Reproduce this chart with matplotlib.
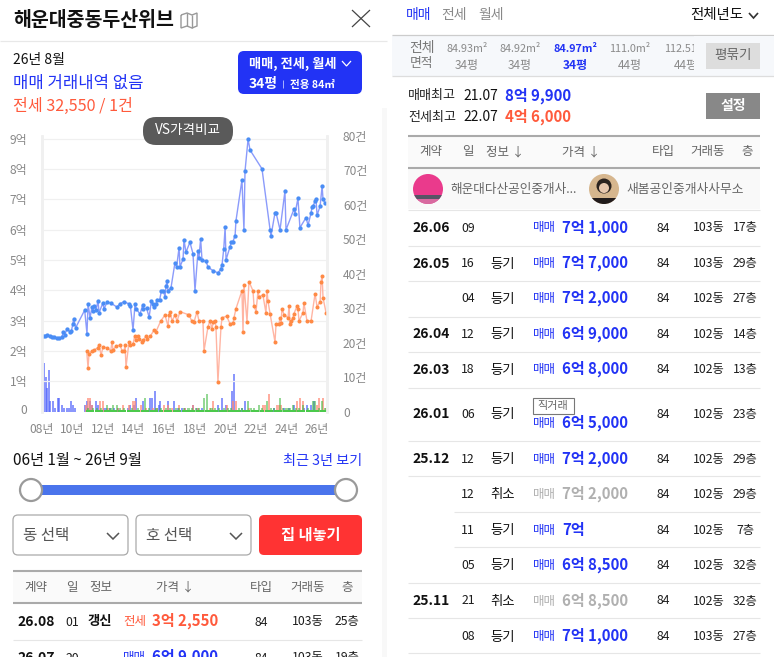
import matplotlib
matplotlib.use("Agg")
import matplotlib.pyplot as plt
from matplotlib.patches import Rectangle, FancyBboxPatch, Circle

plt.rcParams['font.family'] = ['Noto Sans CJK KR', 'DejaVu Sans']

# ---------- chart data ----------
sale_years = [8.07,8.22,8.37,8.54,8.68,8.81,8.98,9.15,9.31,9.42,9.50,9.66,9.85,9.94,10.03,10.09,10.22,10.81,10.96,11.03,
 11.16,11.29,11.33,11.42,11.55,11.68,11.75,11.99,12.07,12.29,12.53,12.92,13.12,13.38,13.73,13.80,13.97,14.10,14.17,14.43,
 14.60,14.64,14.86,15.02,15.17,15.25,15.34,15.47,15.54,15.71,15.82,15.95,16.06,16.13,16.19,16.26,16.45,16.71,16.82,16.98,
 17.04,17.24,17.30,17.43,17.69,17.89,18.02,18.22,18.28,18.39,18.48,18.74,18.87,19.20,19.52,19.70,19.79,19.90,19.99,20.05,
 20.31,20.40,20.48,20.64,20.70,21.09,21.22,21.29,21.49,21.62,22.40,22.93,22.99,23.25,23.32,23.58,23.90,23.97,24.49,24.56,
 24.75,24.88,25.28,25.41,25.61,25.67,25.74,25.87,25.93,26.00,26.20,26.33,26.39,26.52]
sale_prices = [2.51,2.51,2.53,2.49,2.45,2.45,2.44,2.44,2.45,2.63,2.53,2.74,2.62,2.66,2.88,3.07,2.77,3.35,2.57,3.56,
 3.10,3.46,3.32,3.49,3.35,3.66,3.26,3.58,3.40,3.62,3.58,3.45,3.56,3.63,3.55,3.48,2.69,3.55,3.40,3.22,
 3.52,3.40,3.41,3.12,3.65,3.54,3.45,3.55,3.70,3.69,3.97,3.99,3.79,4.15,4.32,3.99,4.08,4.91,4.78,5.41,
 4.78,5.03,5.67,5.26,5.59,5.21,3.99,5.31,5.08,5.70,5.00,4.97,4.77,4.65,4.58,4.70,4.85,5.37,6.09,5.01,
 5.44,5.59,5.59,5.80,6.30,7.64,6.00,7.93,8.99,8.63,8.01,6.00,5.80,6.56,6.56,6.00,7.27,6.00,6.68,6.53,
 7.04,6.07,6.40,6.15,6.56,6.75,6.78,6.95,7.01,6.48,6.78,7.44,7.01,6.88]

rent_years = [10.94,11.03,11.09,11.27,11.42,11.66,11.75,11.88,12.01,12.27,12.51,12.60,12.66,12.86,13.12,13.25,13.38,13.45,13.51,13.71,
 13.77,13.97,14.08,14.17,14.32,14.38,14.56,14.64,14.82,14.91,15.10,15.34,15.47,15.78,16.06,16.26,16.32,16.39,16.52,16.71,
 16.85,17.04,17.59,17.63,17.80,17.96,18.15,18.28,18.54,18.61,18.87,19.00,19.13,19.22,19.33,19.39,19.52,19.72,19.79,20.09,
 20.31,20.51,20.57,20.70,21.09,21.16,21.22,21.42,21.55,21.81,21.88,22.01,22.14,22.20,22.46,22.66,22.73,22.79,22.93,23.25,
 23.32,23.51,23.58,23.64,23.71,23.84,24.10,24.17,24.23,24.30,24.43,24.49,24.69,24.75,24.82,25.08,25.14,25.34,25.61,25.87,
 26.00,26.20,26.26,26.33,26.39,26.59]
rent_prices = [2.01,1.44,1.90,2.00,2.03,2.11,2.20,1.87,2.13,2.11,2.01,2.31,2.03,2.16,2.20,2.01,2.00,2.20,1.47,2.31,
 2.20,2.23,2.49,2.36,2.49,2.40,2.31,2.36,2.49,2.40,2.49,2.69,2.64,2.99,3.19,2.82,3.19,3.29,2.99,3.19,
 2.99,3.30,3.20,3.19,3.00,2.96,3.30,3.00,3.00,2.01,2.80,3.00,2.74,2.96,3.00,2.80,0.98,2.80,3.10,3.15,
 2.90,2.93,3.10,3.40,3.99,2.64,4.19,2.97,4.29,3.99,3.49,3.30,3.99,3.79,3.85,3.26,3.99,3.65,3.23,2.30,
 2.90,2.90,3.10,2.93,3.40,3.20,3.10,3.49,2.90,3.00,3.10,3.23,3.49,3.40,3.00,3.26,3.59,3.00,3.00,3.89,
 3.46,3.63,4.29,4.48,3.76,3.26]

sale_bar_years = [8.04,8.15,8.28,8.35,8.48,8.54,8.74,8.87,9.07,9.13,9.33,9.46,9.66,9.79,9.92,10.05,10.18,10.83,10.96,11.16,
 11.29,11.55,11.68,12.08,12.21,12.47,12.73,12.99,13.65,13.78,14.04,14.17,14.65,15.08,15.23,15.41,15.67,15.74,16.26,16.65,
 16.91,17.17,17.37,17.87,18.13,18.46,19.55,19.81,20.05,20.44,20.57,21.09,21.29,23.19,23.84,24.17,24.47,25.15,25.35,25.61,25.80]
sale_bar_counts = [13,14,10,7,12,3,3,1,4,4,2,1,1,1,3,2,1,2,3,3,
 2,3,2,1,1,1,1,1,1,2,2,4,3,4,4,6,2,3,3,3,
 1,1,1,2,1,1,2,4,2,6,11,1,3,1,1,1,2,1,2,2,3]

rent_bar_years = [10.90,11.03,11.16,11.29,11.81,12.01,12.34,12.99,13.32,13.71,13.97,14.10,14.49,14.82,15.28,15.54,16.00,16.26,16.50,16.98,
 17.37,17.89,18.24,19.00,19.20,20.12,20.51,20.70,21.55,22.47,22.60,22.86,23.38,23.51,23.64,24.69,24.89,25.08,26.00,26.13,26.39,26.59]
rent_bar_counts = [2,4,4,2,3,3,1,1,2,2,3,3,2,1,1,1,2,2,1,2,
 1,2,1,1,3,2,3,3,1,2,2,5,2,2,2,3,4,3,2,4,4,1]

monthly_bar_years = [11.03,11.36,11.60,11.90,12.27,12.50,12.67,12.93,13.10,13.40,13.90,14.30,14.75,15.00,15.50,15.80,16.10,16.40,16.80,17.00,
 17.30,17.60,17.80,18.10,18.30,18.61,18.81,19.10,19.33,19.60,19.90,20.20,20.40,20.90,21.10,21.49,21.70,21.90,22.21,22.40,
 22.73,23.00,23.20,23.58,23.80,24.00,24.20,24.43,24.60,24.80,25.08,25.40,25.74,25.87,26.10,26.33,26.50]
monthly_bar_counts = [1,1,1,1,2,1,2,2,1,1,1,1,4,1,1,1,1,1,1,1,
 1,1,1,1,1,4,5,1,1,1,1,1,1,1,1,3,1,1,2,1,
 3,1,1,4,1,1,1,2,1,1,2,1,3,3,1,3,1]
monthly_base_years = [11.0,11.3,11.6,11.9,12.2,12.5,12.8,13.1,13.4,13.7,14.0,14.3,14.6,14.9,15.2,15.5,15.8,16.1,16.4,16.7,
 17.0,17.3,17.6,17.9,18.2,18.5,18.8,19.1,19.4,19.7,20.0,20.3,20.6,20.9,21.2,21.5,21.8,22.1,22.4,22.7,
 23.0,23.3,23.6,23.9,24.2,24.5,24.8,25.1,25.4,25.7,26.0,26.3,26.55]

price_ticks = [0,1,2,3,4,5,6,7,8,9]
price_labels = ['0','1억','2억','3억','4억','5억','6억','7억','8억','9억']
count_ticks = [0,10,20,30,40,50,60,70,80]
count_labels = ['0','10건','20건','30건','40건','50건','60건','70건','80건']
year_ticks = [8,10,12,14,16,18,20,22,24,26]
year_labels = ['08년','10년','12년','14년','16년','18년','20년','22년','24년','26년']

# ---------- table data ----------
right_dates = ['26.06','26.05','','26.04','26.03','26.01','25.12','','','','25.11','']
right_days = ['09','16','04','12','18','06','12','12','11','05','21','08']
right_info = ['','등기','등기','등기','등기','등기','등기','취소','등기','등기','취소','등기']
right_prices = ['7억 1,000','7억 7,000','7억 2,000','6억 9,000','6억 8,000','6억 5,000','7억 2,000','7억 2,000','7억','6억 8,500','6억 8,500','7억 1,000']
right_types = ['84']*12
right_dongs = ['103동','103동','102동','102동','102동','102동','102동','102동','102동','102동','102동','103동']
right_floors = ['17층','29층','27층','14층','13층','23층','29층','29층','7층','32층','32층','27층']
areas = ['84.93m²','84.92m²','84.97m²','111.0m²']
area_pyeong = ['34평','34평','34평','44평']

# ---------- styles ----------
BLUE = '#2233f5'
RED = '#ff5a3c'
TXT = '#1c1c1c'
LINE = '#e6e6e6'
DARKL = '#aaaaaa'

fig = plt.figure(figsize=(7.74, 6.57), dpi=100, facecolor='white')
W, H = 774, 657

def ax_rect(x0, y0, x1, y1):
    return [x0/W, 1-y1/H, (x1-x0)/W, (y1-y0)/H]

# ---------- chart ----------
ax = fig.add_axes(ax_rect(41.7, 135.5, 327, 411.7))
ax2 = ax.twinx()
ax.set_zorder(3); ax2.set_zorder(2)
ax.patch.set_visible(False)
ax.set_xlim(8.0, 26.65)
ax.set_ylim(0, 9.11)
ax2.set_ylim(0, 80)

ax2.bar(sale_bar_years, sale_bar_counts, width=0.14, color='#4d60fb', alpha=0.65, lw=0)
ax2.bar(rent_bar_years, rent_bar_counts, width=0.14, color='#ff8a76', alpha=0.7, lw=0)
ax2.bar(monthly_bar_years, monthly_bar_counts, width=0.14, color='#3fb83f', alpha=0.55, lw=0)
ax2.bar(monthly_base_years, [0.45]*len(monthly_base_years), width=0.27, color='#4cc94c', lw=0)

ax.plot(sale_years, sale_prices, color='#8b9bfb', lw=1.0, marker='o', ms=3.1,
        mfc='#4a8df5', mec='#4a8df5', mew=0)
ax.plot(rent_years, rent_prices, color='#ffb5a3', lw=1.0, marker='o', ms=2.9,
        mfc='#ff8a45', mec='#ff8a45', mew=0)

ax.set_yticks(price_ticks[1:])
ax.set_yticklabels(price_labels[1:])
ax.yaxis.set_tick_params(length=0, pad=10.5, labelsize=8.6, labelcolor='#888888')
ax.set_xticks(year_ticks)
ax.set_xticklabels(year_labels)
ax.xaxis.set_tick_params(length=0, pad=8, labelsize=8.6, labelcolor='#888888')
ax2.set_yticks(count_ticks)
ax2.set_yticklabels(count_labels)
ax2.yaxis.set_tick_params(length=0, pad=11.5, labelsize=8.6, labelcolor='#888888')
ax.grid(axis='y', color='#f0f0f0', lw=0.9)
ax.set_axisbelow(True)
for a in (ax, ax2):
    for s in ('top', 'bottom'):
        a.spines[s].set_visible(False)
    for s in ('left', 'right'):
        a.spines[s].set_color('#f0f0f0')
        a.spines[s].set_linewidth(1.8)
fig.text(27/W, 1-410/H, price_labels[0], ha='right', va='center', fontsize=8.6, color='#888888')

# ---------- overlay ----------
ov = fig.add_axes([0, 0, 1, 1], zorder=10)
ov.set_xlim(0, W); ov.set_ylim(H, 0)
ov.axis('off')

def T(x, y, s, size=9, color=TXT, weight='normal', ha='left', **kw):
    return ov.text(x, y, s, fontsize=size, color=color, fontweight=weight, ha=ha, va='center', **kw)

def R(x0, y0, x1, y1, fc, z=1, ec='none', lw=0):
    p = Rectangle((x0, y0), x1-x0, y1-y0, fc=fc, ec=ec, lw=lw, zorder=z)
    ov.add_patch(p); return p

def RR(x0, y0, x1, y1, fc, r=5, ec='none', lw=0, z=1):
    p = FancyBboxPatch((x0+r, y0+r), x1-x0-2*r, y1-y0-2*r, boxstyle=f'round,pad={r},rounding_size={r}',
                       fc=fc, ec=ec, lw=lw, zorder=z)
    ov.add_patch(p); return p

def L(xs, ys, c=LINE, lw=0.8, z=2):
    ov.plot(xs, ys, color=c, lw=lw, zorder=z, solid_capstyle='butt', solid_joinstyle='miter')

def chev(x, y, w, h, c, lw=1.1):
    L([x, x+w/2, x+w], [y, y+h, y], c=c, lw=lw, z=6)

# panel edge
R(382, 108, 387, 657, '#f8f8f8', z=0)

# header
T(13, 20, '해운대중동두산위브', size=14, color='#111111', weight='bold')
L([181, 187, 192, 197, 197, 192, 187, 181, 181], [15, 13, 15, 13, 26, 28, 26, 28, 15], c='#999999', lw=1.0)
L([187, 187], [13, 26], c='#999999', lw=1.0)
L([192, 192], [15, 28], c='#999999', lw=1.0)
L([352, 370], [10, 27], c='#444444', lw=0.9)
L([370, 352], [10, 27], c='#444444', lw=0.9)
L([0, 387], [40.5, 40.5], c='#e8e8e8', lw=0.9)

T(13, 60, '26년 8월', size=10, color='#111111')
T(13, 83, '매매 거래내역 없음', size=12, color=BLUE)
T(13, 106, '전세 32,550 / 1건', size=11.6, color=RED, weight='medium')

RR(238, 51, 362, 94, BLUE, r=6)
T(249, 63.5, '매매, 전세, 월세', size=9.5, color='white', weight='bold', zorder=6)
chev(342, 61, 9, 5, 'white', lw=0.9)
T(249, 84, '34평', size=10, color='white', weight='bold', zorder=6)
L([283, 283], [80, 88], c='#aab3ff', lw=0.7, z=6)
T(290, 85, '전용 84㎡', size=7.6, color='white', weight='bold', zorder=6)

RR(143, 117, 233, 145, '#5a5a5a', r=13, z=5)
T(188, 130, 'VS가격비교', size=9.8, color='white', ha='center', zorder=6)

# slider
T(13, 461, '06년 1월 ~ 26년 9월', size=11, color='#111111', weight='medium')
T(362, 461, '최근 3년 보기', size=10.2, color=BLUE, ha='right')
R(31, 485, 346, 495, '#4a74ec')
for cx in (31, 346):
    ov.add_patch(Circle((cx, 490), 11, fc='white', ec='#9a9a9a', lw=1.6, zorder=4))

# selects
for x0, x1, lab in ((13, 128, '동 선택'), (136, 251, '호 선택')):
    RR(x0, 515, x1, 555, 'white', r=5, ec='#aaaaaa', lw=0.9)
    T(x0+10, 535.5, lab, size=11.2, color='#555555')
    chev(x1-21, 533, 12, 6, '#555555', lw=1.1)
RR(259, 515, 362, 555, '#ff3333', r=5)
T(310.5, 535, '집 내놓기', size=11, color='white', weight='bold', ha='center', zorder=6)

# left table
R(13, 571, 362, 603, '#fafafa')
L([13, 362], [571, 571], c=DARKL, lw=1.5)
L([13, 362], [603, 603], c=DARKL, lw=1.5)
for x, s in ((36, '계약'), (72, '일'), (101, '정보'), (175, '가격 ↓'), (261, '타입'), (308, '거래동'), (347, '층')):
    T(x, 587, s, size=9, color='#666666', ha='center')
T(36, 622, '26.08', size=10, weight='bold', ha='center', color='#111111')
T(72, 622, '01', size=8.8, ha='center')
T(100, 621, '갱신', size=9.6, weight='bold', ha='center', color='#111111')
T(123, 622, '전세', size=9, color=RED, weight='medium')
T(152, 621, '3억 2,550', size=10.8, color=RED, weight='bold')
T(261, 622, '84', size=8.8, ha='center')
T(308, 622, '103동', size=8.8, ha='center')
T(347, 622, '25층', size=8.8, ha='center')
L([13, 362], [639.5, 639.5])
T(36, 658, '26.07', size=10, weight='bold', ha='center', color='#111111')
T(72, 658, '20', size=8.8, ha='center')
T(123, 658, '매매', size=9, color=BLUE, weight='medium')
T(152, 657, '6억 9,000', size=10.8, color=BLUE, weight='bold')
T(261, 658, '84', size=8.8, ha='center')
T(308, 658, '103동', size=8.8, ha='center')
T(347, 658, '19층', size=8.8, ha='center')

# right tabs
T(406, 15, '매매', size=10, color=BLUE, weight='medium')
T(441, 15, '전세', size=10, color='#888888', weight='medium')
T(478, 15, '월세', size=10, color='#888888', weight='medium')
T(690, 15, '전체년도', size=10.4, color='#111111', weight='medium')
chev(749, 13, 9, 5, '#333333', lw=1.2)

R(392, 35, 774, 75.5, '#f6f8fb')
L([392, 774], [35, 35], c='#cccccc', lw=0.9)
L([392, 774], [75.5, 75.5], c='#dddddd', lw=0.9)
T(409, 48, '전체', size=10, color='#777777')
T(410, 64, '면적', size=9.2, color='#777777')
area_x = [467, 520, 575, 630]
for i, (x, a, p) in enumerate(zip(area_x, areas, area_pyeong)):
    c = BLUE if i == 2 else '#8a8a8a'
    w = 'bold' if i == 2 else 'normal'
    T(x, 49.5, a, size=7.8, color=c, weight=w, ha='center')
    T(x, 65.5, p, size=8.6, color=c, weight=w, ha='center')
T(664, 49.5, '112.51m²', size=7.8, color='#8a8a8a')
T(674, 65.5, '44평', size=8.6, color='#8a8a8a')
# the area strip scrolls under the button: its overflow is hidden from here on
R(694, 36, 774, 75, '#f6f8fb', z=4)

R(706, 43, 760, 69, '#dddddd', z=5)
T(733, 55.5, '평묶기', size=9.8, color='#666666', ha='center', weight='medium', zorder=6)

T(408, 96, '매매최고', size=9.4, color='#222222')
T(463, 96, '21.07', size=10, weight='medium', color='#111111')
T(505, 95.5, '8억 9,900', size=10.8, color=BLUE, weight='bold')
T(408, 117, '전세최고', size=9.4, color='#222222')
T(463, 117, '22.07', size=10, weight='medium', color='#111111')
T(505, 116.5, '4억 6,000', size=10.8, color=RED, weight='bold')
R(706, 93, 760, 119, '#888888')
T(733, 106, '설정', size=10, color='white', ha='center', weight='bold', zorder=6)

# right table header
R(408, 136, 760, 168, '#fafafa')
L([408, 760], [136, 136], c=DARKL, lw=1.5)
L([408, 760], [168, 168], c=DARKL, lw=1.5)
for x, s in ((431, '계약'), (468, '일'), (505, '정보 ↓'), (581, '가격 ↓'), (663, '타입'), (708, '거래동'), (747, '층')):
    T(x, 152, s, size=9, color='#666666', ha='center')

# brokers
R(408, 169, 760, 209, '#f9f9f9')
c1 = Circle((428, 189), 15, fc='#ea3a8c', ec='none', zorder=3)
ov.add_patch(c1)
b = R(413, 195, 443, 199, '#555566', z=4); b.set_clip_path(c1)
b = R(413, 199, 443, 204, '#d86aa0', z=4); b.set_clip_path(c1)
T(450, 189, '해운대다산공인중개사...', size=9.1, color='#666666')
c2 = Circle((604, 189), 15, fc='#d6b68e', ec='none', zorder=3)
ov.add_patch(c2)
hair = Circle((604, 186), 7.5, fc='#2c2420', zorder=4); ov.add_patch(hair); hair.set_clip_path(c2)
face = Circle((604, 188), 5, fc='#e8c8ae', zorder=5); ov.add_patch(face)
b = R(589, 198, 619, 204, '#221c1c', z=5); b.set_clip_path(c2)
T(626, 189, '새봄공인중개사사무소', size=9.2, color='#666666')
L([408, 760], [209.5, 209.5])

row_y = [228, 263.7, 298.7, 334.3, 369.7, 414.3, 459.3, 494.3, 530.3, 565.3, 601, 636.7]
line_y = [245.7, 280.7, 316.7, 351.7, 387.7, 440.7, 476.3, 511.7, 547.3, 582.7, 618.3, 653.3]
line_x0 = [408, 408, 408, 408, 408, 408, 408, 454, 454, 408, 408, 408]
for i, y in enumerate(row_y):
    cancelled = right_info[i] == '취소'
    col = '#b0b0b0' if cancelled else BLUE
    py = y + 9 if right_dates[i] == '26.01' else y
    T(431, y, right_dates[i], size=10, weight='bold', ha='center', color='#111111')
    T(468, y, right_days[i], size=8.8, ha='center')
    T(503, y, right_info[i], size=9.6, weight='medium', ha='center', color='#111111')
    T(533, py, '매매', size=9, color='#b0b0b0' if cancelled else BLUE, weight='medium')
    T(562, py-0.5, right_prices[i], size=10.8, color=col, weight='bold')
    T(663, y, right_types[i], size=8.8, ha='center')
    T(709, y, right_dongs[i], size=8.8, ha='center')
    T(745, y, right_floors[i], size=8.8, ha='center')
    L([line_x0[i], 760], [line_y[i], line_y[i]])
R(532.5, 398, 573.5, 413.5, 'white', ec='#777777', lw=0.8)
T(553, 405.5, '직거래', size=8, color='#666666', ha='center', zorder=6)

fig.savefig('out.png', dpi=100)
